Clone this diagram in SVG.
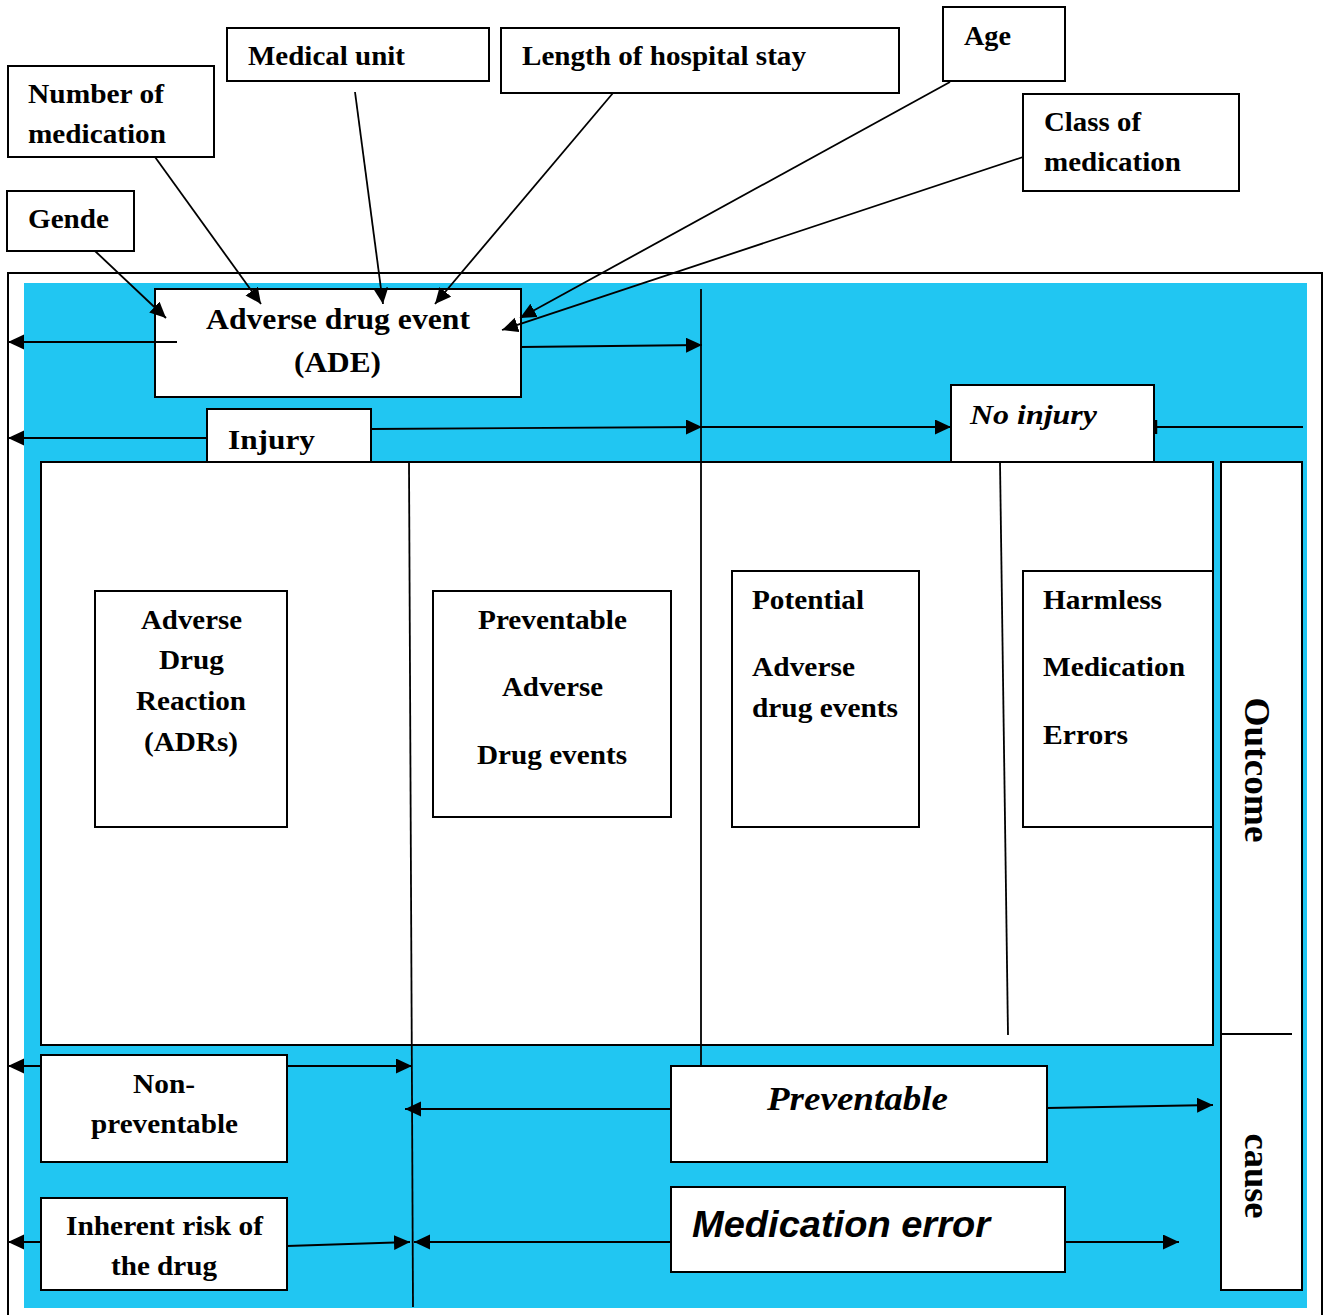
<svg xmlns="http://www.w3.org/2000/svg" width="1325" height="1315" viewBox="0 0 1325 1315">
<defs>
<marker id="ah" markerWidth="18" markerHeight="16" refX="16" refY="7.5" orient="auto" markerUnits="userSpaceOnUse">
<path d="M0,0 L16,7.5 L0,15 z" fill="#000"/>
</marker>
<style>
.box{fill:#fff;stroke:#000;stroke-width:2}
.t{font-family:"Liberation Serif","Times New Roman",serif;font-weight:bold;font-size:28px;fill:#000}
.c{text-anchor:middle}
.ln{stroke:#000;stroke-width:1.8;fill:none}
.ar{stroke:#000;stroke-width:1.8;fill:none;marker-end:url(#ah)}
</style>
</defs>
<rect x="0" y="0" width="1325" height="1315" fill="#fff"/>
<g id="frame">
<rect x="8" y="273" width="1314" height="1050" fill="#fff" stroke="#000" stroke-width="2"/>
<rect x="24" y="283" width="1283" height="1025" fill="#21C6F2"/>
<rect x="41" y="462" width="1172" height="583" class="box"/>
</g>
<g id="n-number"><rect class="box" x="8" y="66" width="206" height="91"/>
<text class="t" x="28" y="103" textLength="136" lengthAdjust="spacingAndGlyphs">Number of</text>
<text class="t" x="28" y="143" textLength="138" lengthAdjust="spacingAndGlyphs">medication</text></g>
<g id="n-unit"><rect class="box" x="227" y="28" width="262" height="53"/>
<text class="t" x="248" y="65" textLength="157" lengthAdjust="spacingAndGlyphs">Medical unit</text></g>
<g id="n-length"><rect class="box" x="501" y="28" width="398" height="65"/>
<text class="t" x="522" y="65" textLength="284" lengthAdjust="spacingAndGlyphs">Length of hospital stay</text></g>
<g id="n-age"><rect class="box" x="943" y="7" width="122" height="74"/>
<text class="t" x="964" y="45" textLength="47" lengthAdjust="spacingAndGlyphs">Age</text></g>
<g id="n-class"><rect class="box" x="1023" y="94" width="216" height="97"/>
<text class="t" x="1044" y="131" textLength="97" lengthAdjust="spacingAndGlyphs">Class of</text>
<text class="t" x="1044" y="171" textLength="137" lengthAdjust="spacingAndGlyphs">medication</text></g>
<g id="n-gende"><rect class="box" x="7" y="191" width="127" height="60"/>
<text class="t" x="28" y="228" textLength="81" lengthAdjust="spacingAndGlyphs">Gende</text></g>
<g id="n-ade"><rect class="box" x="155" y="289" width="366" height="108"/>
<text class="t" x="206" y="329" style="font-size:30px" textLength="264" lengthAdjust="spacingAndGlyphs">Adverse drug event</text>
<text class="t" x="294" y="372" style="font-size:30px" textLength="87" lengthAdjust="spacingAndGlyphs">(ADE)</text></g>
<g id="n-injury"><rect class="box" x="207" y="409" width="164" height="53"/>
<text class="t" x="228" y="449" textLength="87" lengthAdjust="spacingAndGlyphs">Injury</text></g>
<g id="n-noinjury"><rect class="box" x="951" y="385" width="203" height="77"/>
<text class="t" x="970" y="424" style="font-style:italic" textLength="127" lengthAdjust="spacingAndGlyphs">No injury</text></g>
<g id="n-adr"><rect class="box" x="95" y="591" width="192" height="236"/>
<text class="t" x="141" y="629" textLength="101" lengthAdjust="spacingAndGlyphs">Adverse</text>
<text class="t" x="159" y="669" textLength="65" lengthAdjust="spacingAndGlyphs">Drug</text>
<text class="t" x="136" y="710" textLength="110" lengthAdjust="spacingAndGlyphs">Reaction</text>
<text class="t" x="144" y="751" textLength="94" lengthAdjust="spacingAndGlyphs">(ADRs)</text></g>
<g id="n-pade"><rect class="box" x="433" y="591" width="238" height="226"/>
<text class="t" x="478" y="629" textLength="149" lengthAdjust="spacingAndGlyphs">Preventable</text>
<text class="t" x="502" y="696" textLength="101" lengthAdjust="spacingAndGlyphs">Adverse</text>
<text class="t" x="477" y="764" textLength="150" lengthAdjust="spacingAndGlyphs">Drug events</text></g>
<g id="n-potential"><rect class="box" x="732" y="571" width="187" height="256"/>
<text class="t" x="752" y="609" textLength="112" lengthAdjust="spacingAndGlyphs">Potential</text>
<text class="t" x="752" y="676" textLength="103" lengthAdjust="spacingAndGlyphs">Adverse</text>
<text class="t" x="752" y="717" textLength="146" lengthAdjust="spacingAndGlyphs">drug events</text></g>
<g id="n-harmless"><rect class="box" x="1023" y="571" width="190" height="256"/>
<text class="t" x="1043" y="609" textLength="119" lengthAdjust="spacingAndGlyphs">Harmless</text>
<text class="t" x="1043" y="676" textLength="142" lengthAdjust="spacingAndGlyphs">Medication</text>
<text class="t" x="1043" y="744" textLength="85" lengthAdjust="spacingAndGlyphs">Errors</text></g>
<g id="n-side"><rect class="box" x="1221" y="462" width="81" height="828"/>
<line class="ln" x1="1221" y1="1034" x2="1292" y2="1034"/>
<text class="t c" transform="translate(1245,770) rotate(90)" style="font-size:36px" textLength="145" lengthAdjust="spacingAndGlyphs">Outcome</text>
<text class="t c" transform="translate(1245,1176) rotate(90)" style="font-size:36px" textLength="85" lengthAdjust="spacingAndGlyphs">cause</text></g>
<g id="n-nonprev"><rect class="box" x="41" y="1055" width="246" height="107"/>
<text class="t" x="133" y="1093" textLength="62" lengthAdjust="spacingAndGlyphs">Non-</text>
<text class="t" x="91" y="1133" textLength="147" lengthAdjust="spacingAndGlyphs">preventable</text></g>
<g id="n-inherent"><rect class="box" x="41" y="1198" width="246" height="92"/>
<text class="t" x="66" y="1235" textLength="197" lengthAdjust="spacingAndGlyphs">Inherent risk of</text>
<text class="t" x="111" y="1275" textLength="106" lengthAdjust="spacingAndGlyphs">the drug</text></g>
<g id="n-prev"><rect class="box" x="671" y="1066" width="376" height="96"/>
<text class="t" x="767" y="1110" style="font-style:italic;font-size:34px" textLength="181" lengthAdjust="spacingAndGlyphs">Preventable</text></g>
<g id="n-mederr"><rect class="box" x="671" y="1187" width="394" height="85"/>
<text x="692" y="1237" style="font-family:'Liberation Sans',Arial,sans-serif;font-weight:bold;font-style:italic;font-size:36px" textLength="298" lengthAdjust="spacingAndGlyphs">Medication error</text></g>
<g id="connectors">
<line class="ln" x1="701" y1="289" x2="701" y2="1066"/>
<line class="ln" x1="409" y1="462" x2="413" y2="1307"/>
<line class="ln" x1="1000" y1="462" x2="1008" y2="1035"/>
<line class="ar" x1="95" y1="251" x2="166" y2="318"/>
<line class="ar" x1="155" y1="157" x2="261" y2="304"/>
<line class="ar" x1="355" y1="92" x2="383" y2="304"/>
<line class="ar" x1="613" y1="93" x2="435" y2="304"/>
<line class="ar" x1="950" y1="82" x2="520" y2="318"/>
<line class="ar" x1="1023" y1="157" x2="502" y2="330"/>
<line class="ar" x1="177" y1="342" x2="8" y2="342"/>
<line class="ar" x1="521" y1="347" x2="702" y2="345"/>
<line class="ar" x1="207" y1="438" x2="8" y2="438"/>
<line class="ar" x1="371" y1="429" x2="702" y2="427"/>
<line class="ar" x1="701" y1="427" x2="951" y2="427"/>
<line class="ln" x1="1154" y1="427" x2="1303" y2="427"/>
<line x1="1156" y1="420" x2="1156" y2="434" stroke="#000" stroke-width="2.5"/>
<line class="ar" x1="41" y1="1066" x2="8" y2="1066"/>
<line class="ar" x1="287" y1="1066" x2="412" y2="1066"/>
<line class="ar" x1="671" y1="1109" x2="405" y2="1109"/>
<line class="ar" x1="1047" y1="1108" x2="1213" y2="1105"/>
<line class="ar" x1="41" y1="1242" x2="8" y2="1242"/>
<line class="ar" x1="287" y1="1246" x2="410" y2="1242"/>
<line class="ar" x1="671" y1="1242" x2="414" y2="1242"/>
<line class="ar" x1="1065" y1="1242" x2="1179" y2="1242"/>
</g>
</svg>
